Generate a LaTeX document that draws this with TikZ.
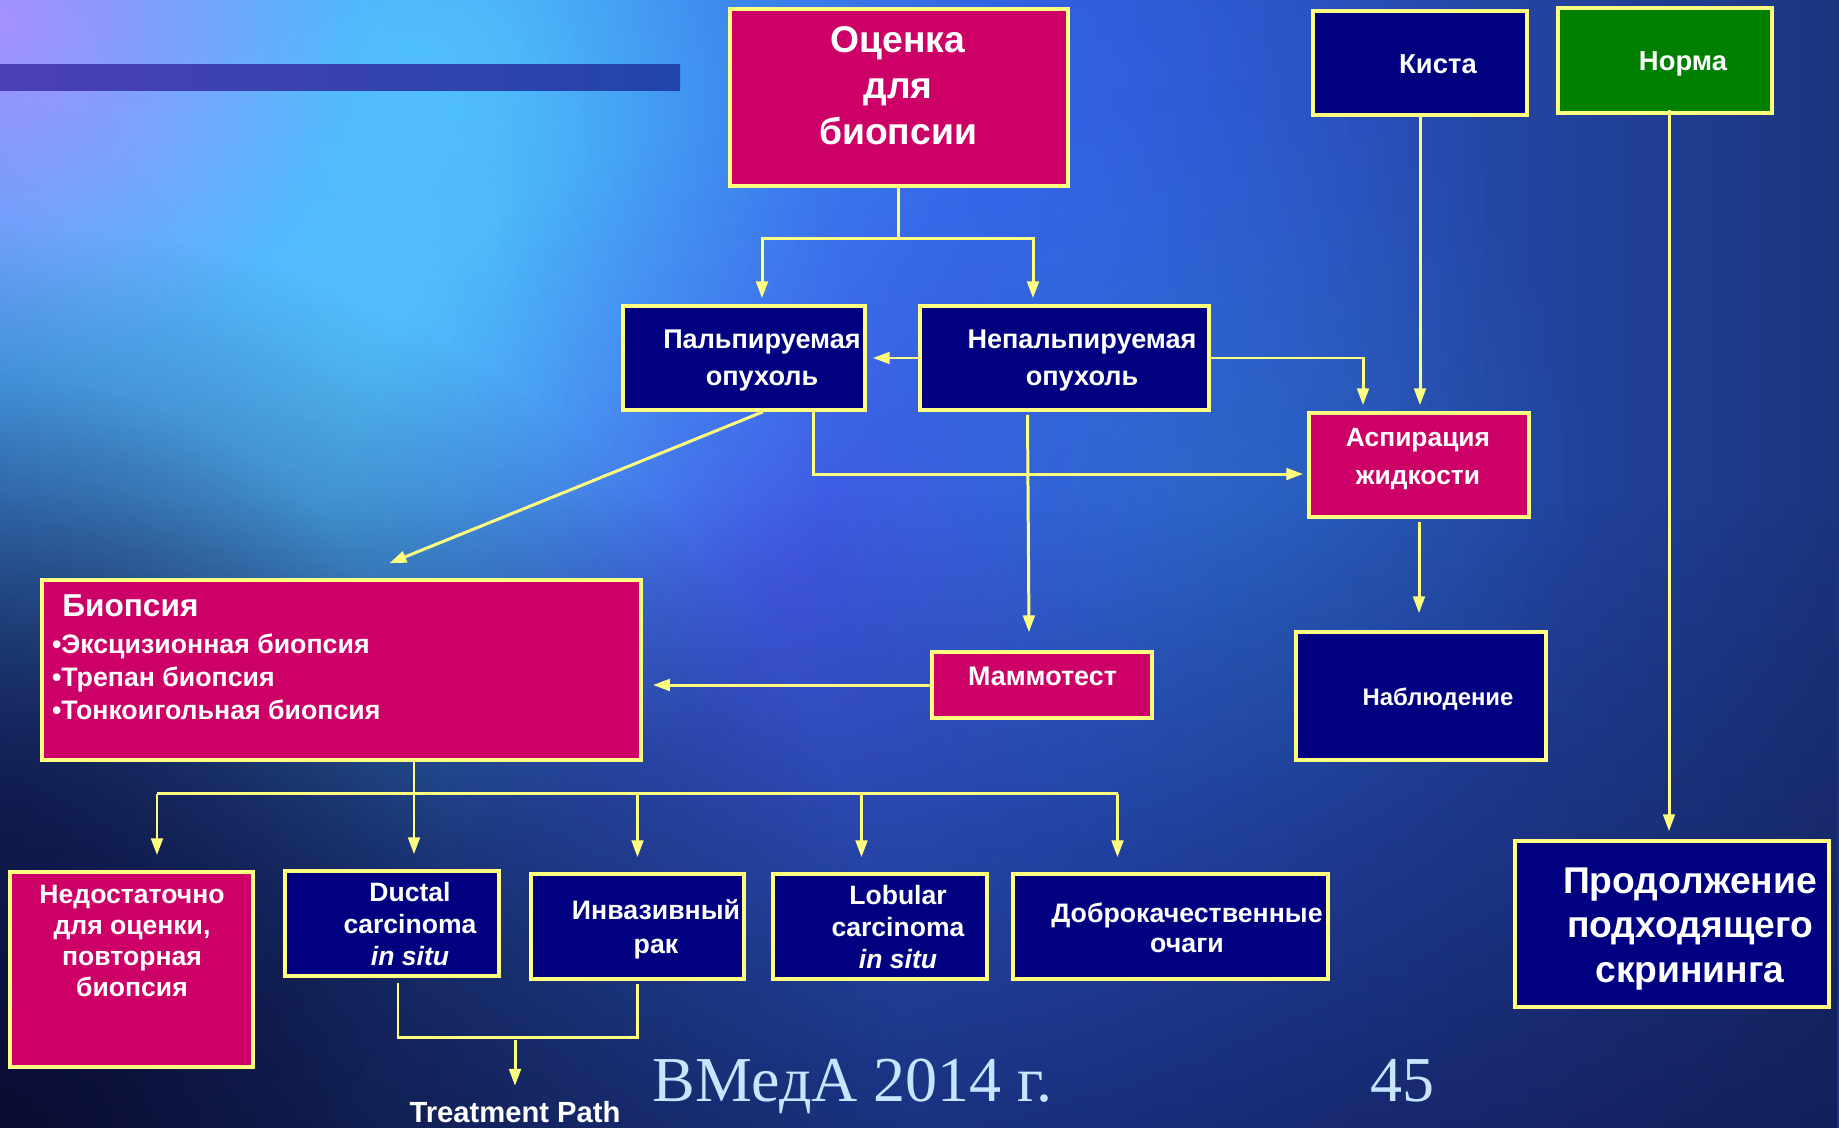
\documentclass[tikz,border=0pt]{standalone}
\usepackage{fontspec}
\setmainfont{Liberation Sans}
\newfontfamily\footfont{Liberation Serif}
\usetikzlibrary{arrows.meta,calc,fadings}

\definecolor{navybox}{HTML}{000080}
\definecolor{crimbox}{HTML}{CC0066}
\definecolor{greenbox}{HTML}{008000}
\definecolor{wire}{HTML}{FFFF80}
\definecolor{footblue}{HTML}{C8E4FF}
\definecolor{bgA}{HTML}{3C88F6}
\definecolor{bgB}{HTML}{3A82F5}
\definecolor{bgC}{HTML}{2C5AD0}
\definecolor{bgD}{HTML}{1E3A8A}
\definecolor{bgE}{HTML}{14204F}
\definecolor{bgF}{HTML}{0F0D2E}
\definecolor{barL}{HTML}{4B40B5}
\definecolor{barR}{HTML}{2244AA}
\definecolor{cyanglow}{HTML}{4ED8FF}
\definecolor{skyglow}{HTML}{55CCFF}
\definecolor{paleglow}{HTML}{5AB4FF}
\definecolor{lilac}{HTML}{B090FF}
\definecolor{violetglow}{HTML}{5548E8}
\definecolor{blueglow}{HTML}{3C6CFF}
\definecolor{tealglow}{HTML}{2C7AC0}
\definecolor{nightblue}{HTML}{080828}
\definecolor{deepblue}{HTML}{0C1040}

\pgfdeclarehorizontalshading{bgsweep}{100bp}{color(0bp)=(bgA); color(30bp)=(bgB); color(55bp)=(bgC); color(72bp)=(bgD); color(86bp)=(bgE); color(100bp)=(bgF)}
\tikzfading[name=fadedown, top color=transparent!100, bottom color=transparent!0]
\tikzfading[name=glow, inner color=transparent!0, outer color=transparent!100]

\newcommand{\fsz}[2]{\fontsize{#1}{#2}\selectfont}

\tikzset{
  box/.style={draw=wire, line width=1pt, inner sep=0pt},
  navy/.style={box, fill=navybox},
  crim/.style={box, fill=crimbox},
  grn/.style={box, fill=greenbox},
  txt/.style={text=white, inner sep=0pt, align=center},
  sz/.style 2 args={font=\bfseries\fsz{#1}{#2}},
  conn/.style={draw=wire, line width=0.85pt},
  arr/.style={conn, -{Triangle[length=4.8pt,width=3.3pt]}},
  blob/.style={path fading=glow},
}

\begin{document}
\begin{tikzpicture}[x=0.01cm, y=-0.01cm]
  \useasboundingbox (0,0) rectangle (1839,1127);

  % background
  \begin{scope}
    \clip (0,0) rectangle (1839,1127);
    \shade[shading=bgsweep] (0,0) rectangle (1839,1127);
    \fill[cyanglow, fill opacity=.85, blob] (330,360) circle[radius=5.2cm];
    \fill[skyglow, fill opacity=.8, blob] (420,60) circle[radius=6cm];
    \fill[paleglow, fill opacity=.6, blob] (120,300) circle[radius=4.4cm];
    \fill[lilac, fill opacity=.9, blob] (0,20) circle[radius=3.6cm];
    \fill[paleglow, fill opacity=.6, blob] (200,560) circle[radius=4cm];
    \fill[violetglow, fill opacity=.5, blob] (780,560) circle[radius=4.4cm];
    \fill[blueglow, fill opacity=.5, blob] (1000,200) circle[radius=5cm];
    \fill[tealglow, fill opacity=.4, blob] (1200,480) circle[radius=4cm];
    \fill[deepblue, fill opacity=.75, path fading=fadedown] (0,500) rectangle (1839,1300);
    \fill[nightblue, fill opacity=.95, blob] (0,1127) circle[radius=9cm];
    \fill[deepblue, fill opacity=.6, blob] (0,820) circle[radius=4.4cm];
    \shade[left color=barL, right color=barR] (0,64) rectangle (680,90);
  \end{scope}

  % boxes
  \node[crim, minimum width=3.38cm, minimum height=1.77cm] (ocenka) at (899,97.5) {};
  \node[navy, minimum width=2.14cm, minimum height=1.04cm] (kista) at (1420,63) {};
  \node[grn, minimum width=2.14cm, minimum height=1.05cm] (norma) at (1665,60.5) {};
  \node[navy, minimum width=2.42cm, minimum height=1.04cm] (palp) at (744,358) {};
  \node[navy, minimum width=2.89cm, minimum height=1.04cm] (nepalp) at (1064.5,358) {};
  \node[crim, minimum width=2.20cm, minimum height=1.04cm] (aspir) at (1419,465) {};
  \node[crim, minimum width=5.99cm, minimum height=1.80cm] (biopsy) at (341.5,670) {};
  \node[crim, minimum width=2.20cm, minimum height=0.66cm] (mammo) at (1042,685) {};
  \node[navy, minimum width=2.50cm, minimum height=1.28cm] (nabl) at (1421,696) {};
  \node[crim, minimum width=2.43cm, minimum height=1.95cm] (nedost) at (131.5,969.5) {};
  \node[navy, minimum width=2.14cm, minimum height=1.05cm] (ductal) at (392,923.5) {};
  \node[navy, minimum width=2.13cm, minimum height=1.05cm] (invas) at (637.5,926.5) {};
  \node[navy, minimum width=2.14cm, minimum height=1.05cm] (lobul) at (880,926.5) {};
  \node[navy, minimum width=3.15cm, minimum height=1.05cm] (dobro) at (1170.5,926.5) {};
  \node[navy, minimum width=3.14cm, minimum height=1.66cm] (prod) at (1672,924) {};

  % box texts
  \node[txt, sz={10.6}{13.1}] (ocenkaT) at (898,86) {Оценка\\для\\биопсии};
  \node[txt, sz={7.8}{9}, anchor=base] (kistaT) at (1438,73.2) {Киста};
  \node[txt, sz={7.8}{9}, anchor=base] (normaT) at (1683,70.7) {Норма};
  \node[txt, sz={7.7}{10.5}] (palpT) at (762,360.8) {Пальпируемая\\опухоль};
  \node[txt, sz={7.7}{10.5}] (nepalpT) at (1082,360.8) {Непальпируемая\\опухоль};
  \node[txt, sz={7.5}{10.7}] (aspirT) at (1418,459) {Аспирация\\жидкости};
  \node[txt, sz={7.65}{9}, anchor=base] (mammoT) at (1042.5,685.7) {Маммотест};
  \node[txt, sz={6.8}{8}, anchor=base] (nablT) at (1438,705) {Наблюдение};
  \node[txt, sz={9}{10}, anchor=base west] (biopsyT) at (61.6,616.7) {Биопсия};
  \node[txt, sz={7.6}{9.4}, align=left, anchor=north west] (biopsyL) at (51.3,633)
    {•Эксцизионная биопсия\\•Трепан биопсия\\•Тонкоигольная биопсия};
  \node[txt, sz={7.55}{8.8}] (nedostT) at (132,941) {Недостаточно\\для оценки,\\повторная\\биопсия};
  \node[txt, sz={7.55}{9.1}] (ductalT) at (410,923.7) {Ductal\\carcinoma\\\textit{in situ}};
  \node[txt, sz={7.6}{9.4}] (invasT) at (656,929.3) {Инвазивный\\рак};
  \node[txt, sz={7.55}{9.1}] (lobulT) at (898,926.7) {Lobular\\carcinoma\\\textit{in situ}};
  \node[txt, sz={7.6}{8.6}] (dobroT) at (1187,927.5) {Доброкачественные\\очаги};
  \node[txt, sz={10.6}{12.7}] (prodT) at (1690,929) {Продолжение\\подходящего\\скрининга};

  % free labels
  \node[txt, sz={8.3}{10}, anchor=base] (treat) at (515,1122.7) {Treatment Path};
  \node[inner sep=0pt, text=footblue, font=\footfont\fsz{18.2}{20}, anchor=base west] (foot) at (652,1101.7) {ВМедА 2014 г.};
  \node[inner sep=0pt, text=footblue, font=\footfont\fsz{18.2}{20}, anchor=base] (pagenum) at (1402,1101.7) {45};

  % top branch
  \coordinate (topbus) at ($(ocenka.south)+(-1,51)$);
  \draw[conn] (ocenka.south -| topbus) -- (topbus);
  \draw[arr, shorten >=0.6mm] (topbus) -| ($(palp.north)+(18,0)$);
  \draw[arr, shorten >=0.6mm] (topbus) -| ($(nepalp.north)+(-31.5,0)$);

  % tumour boxes
  \draw[arr, shorten >=0.6mm] (nepalp.west) -- (palp.east);
  \draw[arr, shorten >=0.6mm] (nepalp.east) -| ($(aspir.north)+(-56,0)$);
  \draw[arr, shorten >=0.6mm] (kista.south) -- (kista.south |- aspir.north);
  \draw[arr, shorten >=0.4mm] ($(palp.south)+(69,0)$) |- ($(aspir.west)+(0,9)$);
  \draw[arr] ($(palp.south)+(19,0)$) -- ($(biopsy.north)+(48,-15)$);
  \draw[arr] ($(nepalp.south)+(-37,3)$) -- ($(mammo.north)+(-13,-18)$);
  \draw[arr, shorten >=1mm] (mammo.west) -- (mammo.west -| biopsy.east);
  \draw[arr, shorten <=0.3mm, shorten >=1.7mm] (aspir.south) -- (aspir.south |- nabl.north);
  \coordinate (normaout) at ($(norma.south)+(4,-5)$);
  \draw[arr, shorten >=0.8mm] (normaout) -- (normaout |- prod.north);

  % biopsy results
  \coordinate (bbus) at ($(biopsy.south)+(72.5,32)$);
  \draw[conn] (biopsy.south -| bbus) -- (bbus);
  \foreach \n/\dx in {nedost/25.5, ductal/22, invas/0, lobul/-18.5, dobro/-53}
    \coordinate (d\n) at ($(\n.north)+(\dx,0)$);
  \draw[conn] (bbus -| dnedost) -- (bbus -| ddobro);
  \foreach \n in {nedost, ductal, invas, lobul, dobro}
    \draw[arr, shorten >=1.5mm] (bbus -| d\n) -- (d\n);

  % treatment path
  \coordinate (tleft) at ($(ductal.south)+(6,5)$);
  \coordinate (tright) at ($(invas.south)+(0,3)$);
  \draw[conn] (tleft) |- ($(tright)+(0,54)$) -- (tright);
  \coordinate (tstart) at (515,1040);
  \draw[arr, shorten >=1.5mm] (tstart) -- (treat.north);
\end{tikzpicture}
\end{document}
